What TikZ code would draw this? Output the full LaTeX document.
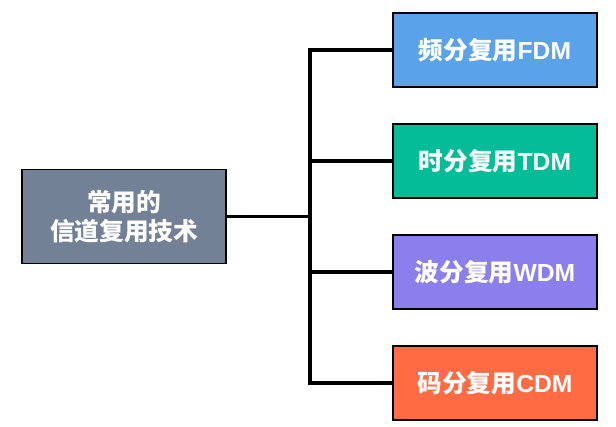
\documentclass[tikz,border=0pt]{standalone}
\usepackage{fontspec}
\usepackage{xcolor}
\usepackage{tikz}
\usetikzlibrary{positioning,calc}
\newfontfamily\cjk{Noto Sans CJK SC}
\newfontfamily\lat{Liberation Sans}
\definecolor{rootgray}{HTML}{738196}
\definecolor{fdmblue}{HTML}{5AA3E8}
\definecolor{tdmgreen}{HTML}{05BC98}
\definecolor{wdmpurple}{HTML}{8B7FEE}
\definecolor{cdmorange}{HTML}{FF6B42}

\begin{document}
\begin{tikzpicture}[
  x=0.75pt,y=-0.75pt,
  every node/.style={font=\cjk\bfseries\fontsize{18.5pt}{22pt}\selectfont,text=white},
  rootbox/.style={rectangle,draw=black,line width=0.8pt,fill=rootgray,minimum width=153pt,minimum height=71pt,align=center,inner sep=0pt},
  techbox/.style={rectangle,draw=black,line width=0.8pt,minimum width=153pt,minimum height=55.5pt,inner sep=0pt},
  link/.style={line width=2.3pt,black}
]
\useasboundingbox (0,0) rectangle (616,427);
\def\dy{111}
\node[rootbox] (root) at (124,216.5) {常用的\\信道复用技术};
\coordinate (j) at (310,216.5);
\node[techbox,fill=fdmblue] (fdm) at (495,50) {频分复用{\lat FDM}};
\node[techbox,fill=tdmgreen] (tdm) at (495,50+1*\dy) {时分复用{\lat TDM}};
\node[techbox,fill=wdmpurple] (wdm) at (495,50+2*\dy) {波分复用{\lat WDM}};
\node[techbox,fill=cdmorange] (cdm) at (495,50+3*\dy) {码分复用{\lat CDM}};

\draw[link] (root) -- (j);
\foreach \b in {fdm,tdm,wdm,cdm}
  \draw[link] (j) |- (\b.west);
\end{tikzpicture}
\end{document}
